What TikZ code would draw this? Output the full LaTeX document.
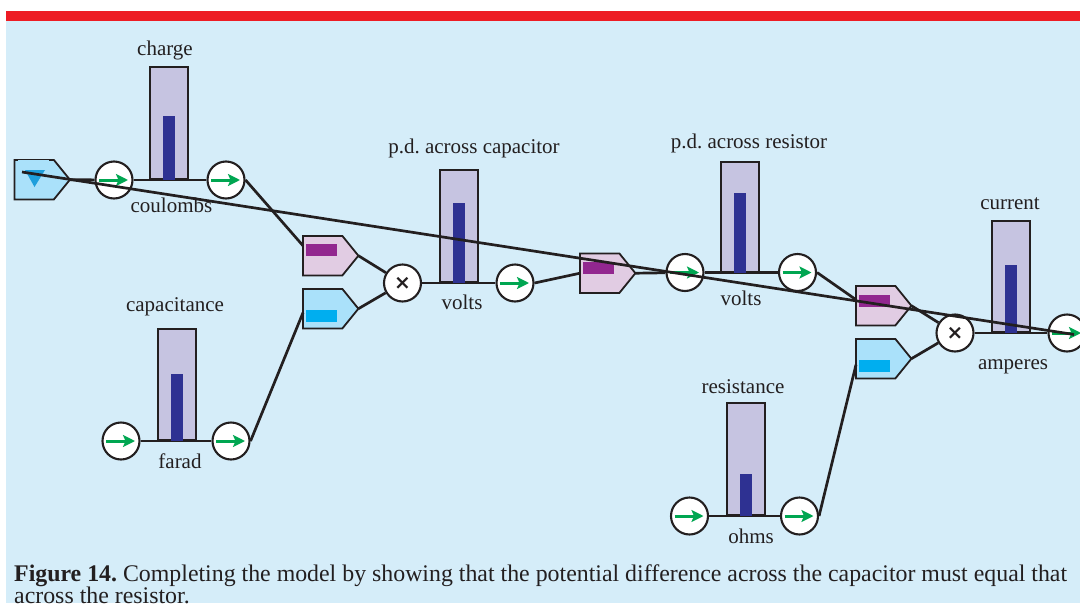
\documentclass[tikz,border=0pt]{standalone}
\usepackage{fontspec}
\setmainfont{Liberation Serif}
\newfontfamily\opfont{DejaVu Sans}
\usetikzlibrary{arrows.meta}
\frenchspacing

\definecolor{bgblue}{HTML}{D5EDF9}
\definecolor{topred}{HTML}{ED1C24}
\definecolor{ink}{HTML}{231F20}
\definecolor{tankfill}{HTML}{C6C4E1}
\definecolor{levelblue}{HTML}{2E3192}
\definecolor{flowgreen}{HTML}{00A651}
\definecolor{convpink}{HTML}{E1CCE3}
\definecolor{convpurple}{HTML}{92278F}
\definecolor{convsky}{HTML}{AAE1FA}
\definecolor{convcyan}{HTML}{00AEEF}
\definecolor{srcmark}{HTML}{1E9FDC}

\tikzset{
  valve/.style={circle,draw=ink,fill=white,line width=2.1pt,minimum size=37pt,inner sep=0pt},
  flowarrow/.style={flowgreen,line width=3pt,-{Stealth[length=12pt,width=12pt,inset=2.5pt]}},
  link/.style={ink,line width=2.7pt},
  tankbox/.style={draw=ink,fill=tankfill,line width=1.8pt,minimum width=38pt,inner sep=0pt},
  convbox/.style={inner sep=0pt,minimum width=55pt,minimum height=39pt,anchor=north west},
  lbl/.style={text=ink,font=\fontsize{21}{24}\selectfont,anchor=base,inner sep=0pt},
  captext/.style={text=ink,font=\fontsize{23.85}{26}\selectfont,anchor=base west,inner sep=0pt},
}

% flow valve: name, x, y
\newcommand\valve[3]{%
  \node[valve] (#1) at (#2,#3) {};
  \draw[flowarrow] ([xshift=-15pt]#1.center) -- ([xshift=14pt]#1.center);}

% multiplier: name, x, y
\newcommand\multiplier[3]{%
  \node[valve,text=ink,font=\opfont\bfseries\fontsize{20}{20}\selectfont] (#1) at (#2,#3) {×};}

% stock tank: name, centre x, top, bottom, level top
\newcommand\tank[5]{%
  \node[tankbox,minimum height={(#4)-(#3)},anchor=south] (#1) at (#2,#4) {};
  \fill[levelblue] (#2-6,#5) rectangle (#2+6,#4);}

% converter pentagon: name, left x, top y, fill, mark colour, mark offset
\newcommand\converter[6]{%
  \node[convbox] (#1) at (#2,#3) {};
  \filldraw[fill=#4,draw=ink,line width=1.8pt,line join=miter]
    (#1.north west) -- ([xshift=-16pt]#1.north east) -- (#1.east)
    -- ([xshift=-16pt]#1.south east) -- (#1.south west) -- cycle;
  \fill[#5] (#2+3,#3+#6) rectangle (#2+34,#3+#6+12);}

\begin{document}
\begin{tikzpicture}[x=1pt,y=-1pt]
\useasboundingbox (0,0) rectangle (1080,603);
\clip (0,0) rectangle (1080,603);
\fill[white] (0,0) rectangle (1080,603);
\fill[bgblue] (6,11) rectangle (1080,603);
\fill[topred] (6,11) rectangle (1080,20.5);

% ---- source and converters ----
\converter{src}{14.5}{160}{convsky}{convsky}{0}
\fill[srcmark] (25,170) -- (45,170) -- (34.5,187) -- cycle;

\converter{p1}{303}{236}{convpink}{convpurple}{8}
\converter{b1}{303}{289}{convsky}{convcyan}{21}
\converter{p2}{580}{253.5}{convpink}{convpurple}{8}
\converter{p3}{856}{286}{convpink}{convpurple}{9}
\converter{b2}{856}{339}{convsky}{convcyan}{20.5}

% ---- valves and multipliers ----
\valve{c1}{114}{180}
\valve{c2}{226}{180}
\valve{cA}{121}{441}
\valve{cB}{231}{441}
\valve{cC}{515}{283}
\valve{cD}{685}{272.5}
\valve{cE}{797.5}{272.5}
\valve{cF}{1067}{333}
\valve{cG}{689.5}{516}
\valve{cH}{799.5}{516}
\multiplier{m1}{402.5}{283}
\multiplier{m2}{955}{333}

% ---- flow lines and links ----
\draw[link] (src.east) -- (c1);
\draw[link] (c1) -- (c2);
\draw[link] (cA) -- (cB);
\draw[link] (cG) -- (cH);
\draw[link] (m1) -- (cC);
\draw[link] (p2.east) -- (cD);
\draw[link] (cD) -- (cE);
\draw[link] (m2) -- (cF);
\draw[link] (c2.east) -- ([yshift=10pt]p1.west);
\draw[link] (cB.east) -- ([yshift=-4pt]b1.west);
\draw[link] (cC.east) -- (p2.west);
\draw[link] (cE.east) -- ([yshift=6pt]p3.west);
\draw[link] (cH.east) -- ([yshift=-6pt]b2.west);
\draw[link] (p1.east) -- (m1);
\draw[link] (b1.east) -- (m1);
\draw[link] (p3.east) -- (m2);
\draw[link] (b2.east) -- (m2);

% ---- stocks ----
\tank{charge}{169}{68}{180}{116}
\tank{capacitance}{177}{330}{441}{374}
\tank{pdcap}{459}{171}{283}{203}
\tank{pdres}{740}{163}{272.5}{193}
\tank{current}{1011}{222}{333}{265}
\tank{resistance}{746}{404}{516}{474}

% ---- long link across the model ----
\coordinate (feedA) at (22,172);
\coordinate (feedB) at (1074,334.5);
\draw[link] (feedA) -- (feedB);

% ---- labels ----
\node[lbl] (t1) at (165,55) {charge};
\node[lbl] (t2) at (171.5,212) {coulombs};
\node[lbl] (t3) at (175,311) {capacitance};
\node[lbl] (t4) at (180,468) {farad};
\node[lbl] (t5) at (474,153) {p.d. across capacitor};
\node[lbl] (t6) at (462,309) {volts};
\node[lbl] (t7) at (749,148) {p.d. across resistor};
\node[lbl] (t8) at (741,305) {volts};
\node[lbl] (t9) at (1010,209) {current};
\node[lbl] (t10) at (1013,369) {amperes};
\node[lbl] (t11) at (743,393) {resistance};
\node[lbl] (t12) at (751,543) {ohms};

% ---- caption ----
\node[captext] (cap1) at (14,581) {\textbf{Figure 14.} Completing the model by showing that the potential difference across the capacitor must equal that};
\node[captext] (cap2) at (14,603) {across the resistor.};
\end{tikzpicture}
\end{document}
